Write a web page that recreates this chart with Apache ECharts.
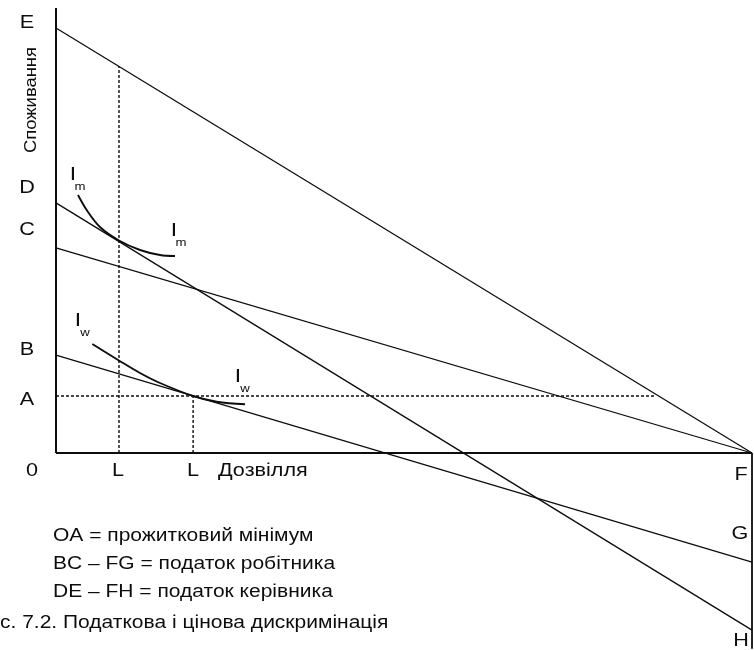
<!DOCTYPE html>
<html><head><meta charset="utf-8">
<script src="https://cdn.jsdelivr.net/npm/echarts@6/dist/echarts.min.js"></script>
<style>html,body{margin:0;padding:0;background:#fff}#c{width:754px;height:650px}</style>
</head><body><div id="c"></div>
<script>
// Budget lines (leisure x, consumption y)
const budgetE = [[0, 95.5], [100, 0]];
const budgetD = [[0, 56.2], [100, -39.8]];
const budgetC = [[0, 46.1], [100, 0]];
const budgetB = [[0, 22.0], [100, -24.5]];
// Guide lines
const subsistenceA = [[0, 12.8], [86, 12.8]];
const leisureL1 = [[9.05, 0], [9.05, 86.9]];
const leisureL2 = [[19.7, 0], [19.7, 12.8]];
// Indifference curves
const curveIm = [[3.16, 57.98], [4.41, 54.61], [6.32, 50.79], [9.05, 47.75], [12.07, 45.62], [14.94, 44.49], [17.10, 44.27]];
const curveIw = [[5.22, 24.49], [9.09, 20.74], [12.07, 17.98], [14.94, 15.73], [19.68, 12.81], [23.09, 11.53], [27.16, 10.94]];
// Axes
const axisY = [[0, 0], [0, 100]];
const axisX = [[0, 0], [100, 0]];
const axisRight = [[100, 0], [100, -44]];
// Texts
const yLetters = ['E', 'D', 'C', 'B', 'A'];
const xLetters = ['0', 'L', 'L', 'Дозвілля'];
const rightLetters = ['F', 'G', 'H'];
const yTitle = 'Споживання';
const curveNames = ['m', 'w'];
const legendLines = ['OA = прожитковий мінімум', 'BC – FG = податок робітника', 'DE – FH = податок керівника'];
const caption = 'с. 7.2. Податкова і цінова дискримінація';

const FONT = '"Liberation Sans", Arial, sans-serif';
const INK = '#0d0d0d';
const SX = 1.2;

function solid(data, w) {
  return {type: 'line', data, symbol: 'none', clip: false, silent: true,
    lineStyle: {color: INK, width: w}};
}
function dashed(data) {
  return {type: 'line', data, symbol: 'none', clip: false, silent: true,
    lineStyle: {color: INK, width: 1.4, type: [3, 2]}};
}
function curve(data) {
  return {type: 'line', data, symbol: 'none', clip: false, silent: true, smooth: 0.35,
    lineStyle: {color: INK, width: 1.9}};
}
function txt(s, x, y, size, align, opts) {
  return Object.assign({type: 'text', x, y, scaleX: SX, silent: true,
    style: {text: s, font: size + 'px ' + FONT, fill: INK, textAlign: align || 'center', textVerticalAlign: 'middle'}}, opts || {});
}

const yLetterPos = [[27, 23], [27, 188], [27, 230], [27, 350], [27, 400]];
const xLetterPos = [[32, 471, 'center'], [118, 471, 'center'], [193, 471, 'center'], [218, 471, 'left']];
const rightPos = [[741, 475], [740, 534], [741, 641]];

const graphics = [];
yLetters.forEach((s, i) => graphics.push(txt(s, yLetterPos[i][0], yLetterPos[i][1], 18)));
xLetters.forEach((s, i) => graphics.push(txt(s, xLetterPos[i][0], xLetterPos[i][1], 18, xLetterPos[i][2])));
rightLetters.forEach((s, i) => graphics.push(txt(s, rightPos[i][0], rightPos[i][1], 18)));
graphics.push({type: 'text', x: 32, y: 100, rotation: Math.PI / 2, scaleX: 1.15, silent: true,
  style: {text: yTitle, font: '16px ' + FONT, fill: INK, textAlign: 'center', textVerticalAlign: 'middle'}});
// curve labels: big I with subscript
const curveLabelPos = [[[73, 175], [174, 231]], [[78, 321], [238, 377]]];
curveNames.forEach((n, i) => {
  curveLabelPos[i].forEach(p => {
    graphics.push(txt('I', p[0], p[1], 19));
    graphics.push(txt(n, p[0] + 7, p[1] + 12, 11));
  });
});
const legendY = [536, 564, 592];
legendLines.forEach((s, i) => graphics.push(txt(s, 53, legendY[i], 17.5, 'left')));
graphics.push(txt(caption, 0, 623, 17.5, 'left'));

const chart = echarts.init(document.getElementById('c'), null, {renderer: 'canvas'});
chart.setOption({
  animation: false,
  backgroundColor: '#fff',
  grid: {left: 56, right: 2, top: 8, bottom: 1.2},
  xAxis: {type: 'value', min: 0, max: 100, show: false},
  yAxis: {type: 'value', min: -44, max: 100, show: false},
  series: [
    solid(axisY, 2), solid(axisX, 1.8), solid(axisRight, 1.8),
    solid(budgetE, 1.3), solid(budgetD, 1.3), solid(budgetC, 1.3), solid(budgetB, 1.3),
    dashed(subsistenceA), dashed(leisureL1), dashed(leisureL2),
    curve(curveIm), curve(curveIw)
  ],
  graphic: graphics
});
</script></body></html>
